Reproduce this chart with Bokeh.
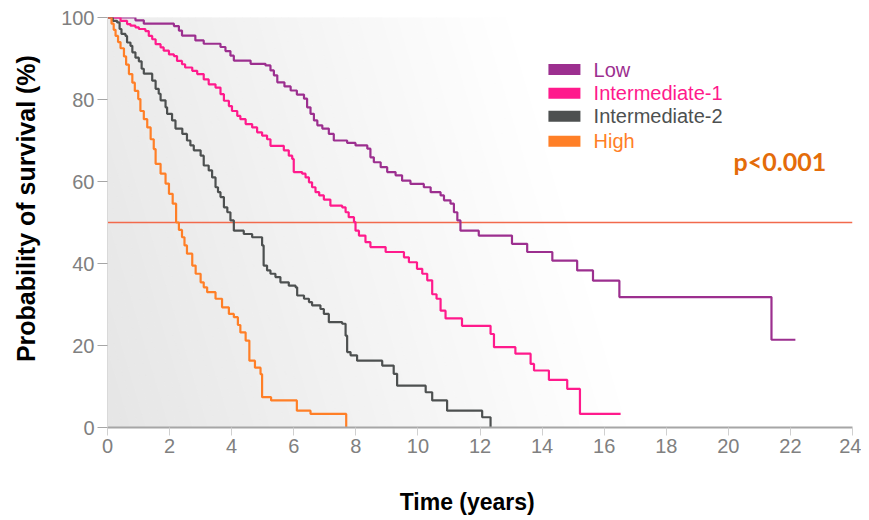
import numpy as np
from bokeh.plotting import figure
from bokeh.models import Range1d, FixedTicker, Span, Label
from bokeh.core.properties import value
from bokeh.embed import file_html
from bokeh.resources import INLINE

# ---------------- data ----------------
groups = ["Low", "Intermediate-1", "Intermediate-2", "High"]
group_colors = ["#9c2f8f", "#ff1a8c", "#4d5050", "#ff7f27"]

low_t = [0, 0.9, 1.17, 2.14, 2.3, 2.4, 2.83, 3.1, 3.64, 3.8, 3.96, 4.07, 4.61, 5.09, 5.25,
         5.36, 5.47, 5.7, 5.9, 6.1, 6.33, 6.43, 6.54, 6.65, 6.76, 6.92, 7.13, 7.29, 7.72,
         7.99, 8.37, 8.47, 8.58, 8.8, 9.01, 9.28, 9.49, 9.76, 10.19, 10.41, 10.73, 10.84,
         11.05, 11.16, 11.27, 11.37, 11.96, 13.03, 13.52, 14.33, 15.13, 15.64, 16.49,
         21.39, 22.16]
low_s = [100, 99.3, 98.5, 97.9, 96.8, 95.6, 94.4, 93.6, 92.8, 91.8, 90.7, 89.5, 88.7, 88.3,
         87.1, 85.9, 84.2, 83.2, 82.2, 81.2, 80.2, 78.1, 76.5, 74.9, 73.7, 72.9, 71.6, 70.0,
         69.4, 68.8, 68.0, 65.9, 64.7, 63.5, 62.3, 61.5, 60.2, 59.4, 58.6, 57.4, 56.6, 55.4,
         54.6, 52.5, 50.5, 48.0, 46.8, 44.8, 42.8, 40.7, 38.3, 35.8, 31.8, 21.4, 21.4]

int1_t = [0, 0.42, 0.63, 0.74, 0.9, 1.01, 1.22, 1.33, 1.44, 1.55, 1.71, 1.81, 1.98, 2.14,
          2.24, 2.4, 2.5, 2.73, 2.89, 3.1, 3.26, 3.48, 3.64, 3.75, 3.91, 4.01, 4.18, 4.28,
          4.45, 4.66, 4.82, 4.98, 5.14, 5.25, 5.68, 5.84, 5.95, 6.0, 6.27, 6.38, 6.49, 6.59,
          6.7, 6.82, 6.97, 7.18, 7.56, 7.67, 7.77, 7.94, 7.99, 8.1, 8.31, 8.47, 8.96, 9.55,
          9.71, 9.97, 10.14, 10.3, 10.46, 10.6, 10.73, 10.89, 11.42, 12.34, 12.45, 13.14,
          13.63, 13.74, 14.22, 14.81, 15.22, 16.53]
int1_s = [100, 99.2, 98.4, 98.0, 97.6, 97.2, 96.7, 95.5, 94.7, 93.5, 92.7, 91.9, 91.0, 90.6,
          89.4, 88.6, 87.8, 87.0, 86.2, 84.9, 83.7, 82.9, 81.3, 79.7, 78.4, 77.2, 76.0, 75.2,
          74.0, 73.2, 72.0, 71.2, 70.3, 68.7, 67.6, 66.3, 65.5, 62.3, 61.9, 61.0, 59.8, 58.6,
          57.4, 56.6, 55.6, 54.1, 53.7, 52.5, 51.3, 50.1, 48.0, 46.8, 45.2, 44.0, 42.8, 41.5,
          40.3, 38.7, 37.5, 35.9, 32.5, 31.4, 28.5, 26.6, 24.8, 22.8, 19.6, 18.0,
          15.5, 13.9, 11.6, 9.4, 3.3, 3.3]

int2_t = [0, 0.17, 0.31, 0.39, 0.45, 0.58, 0.63, 0.74, 0.8, 0.9, 1.01, 1.1, 1.17, 1.44,
          1.55, 1.65, 1.71, 1.87, 1.92, 2.08, 2.19, 2.41, 2.56, 2.67, 2.78, 3.0, 3.1, 3.26,
          3.37, 3.48, 3.56, 3.64, 3.75, 3.86, 3.96, 4.07, 4.39, 4.66, 4.98, 5.03, 5.14, 5.25,
          5.41, 5.57, 5.84, 6.06, 6.11, 6.33, 6.49, 6.59, 6.86, 6.97, 7.13, 7.56, 7.67, 7.72,
          7.83, 8.04, 8.85, 9.22, 9.33, 10.25, 10.46, 10.94, 12.07, 12.34]
int2_s = [100, 99.2, 98.8, 97.2, 96.0, 95.5, 93.9, 93.1, 91.5, 90.2, 89.3, 87.5, 86.3, 84.6,
          82.6, 81.4, 79.8, 78.1, 76.5, 74.9, 72.9, 71.6, 70.0, 68.8, 67.6, 66.3, 63.9, 62.7,
          61.0, 58.6, 57.4, 56.2, 53.7, 52.5, 50.5, 48.0, 47.2, 46.4, 44.4, 39.5, 38.3, 37.5,
          36.7, 35.4, 34.6, 34.2, 32.2, 31.4, 30.6, 29.8, 28.9, 27.7, 25.7, 25.3, 22.4, 18.4,
          17.6, 16.3, 15.1, 13.1, 10.2, 8.6, 6.6, 4.1, 2.5, 0]

high_t = [0, 0.13, 0.2, 0.26, 0.34, 0.42, 0.53, 0.6, 0.69, 0.8, 0.88, 0.99, 1.06, 1.17,
          1.28, 1.39, 1.49, 1.55, 1.71, 1.87, 1.98, 2.1, 2.21, 2.3, 2.4, 2.48, 2.56, 2.73,
          2.84, 3.0, 3.1, 3.21, 3.48, 3.69, 3.91, 4.07, 4.2, 4.28, 4.45, 4.57, 4.75, 4.93,
          4.98, 5.27, 6.1, 6.54, 7.69]
high_s = [100, 98.5, 97.0, 95.5, 94.0, 92.5, 90.5, 88.5, 86.2, 84.1, 82.1, 80.1, 77.2, 75.2,
          73.2, 70.3, 67.9, 64.3, 61.9, 59.5, 57.0, 54.6, 50.0, 48.2, 46.4, 44.4, 42.4, 39.5,
          37.5, 35.4, 34.2, 33.0, 31.4, 29.3, 27.7, 26.9, 25.0, 23.2, 21.2, 16.3, 14.6, 13.0,
          7.4, 6.6, 4.1, 3.3, 0]

x_ticks = list(range(0, 25, 2))
y_ticks = [0, 20, 40, 60, 80, 100]
median_level = 50
p_text = "p<0.001"
x_title = "Time (years)"
y_title = "Probability of survival (%)"

# ---------------- figure ----------------
p = figure(frame_width=745, frame_height=410, x_range=Range1d(0, 24), y_range=Range1d(0, 100),
           output_backend="svg", toolbar_location=None,
           min_border_left=107, min_border_top=17, min_border_right=9, min_border_bottom=88,
           background_fill_color="white", border_fill_color="white")
p.outline_line_color = None
p.grid.visible = False

# background diagonal gradient (decoration)
slant = 3.9
du = 0.25
xs, ys, cols = [], [], []
for a in np.arange(-5, 24, du):
    b = a + du
    frac = min(max((a + du / 2 + 1.0) / 18.0, 0.0), 1.0)
    g = int(round(228 + (255 - 228) * frac))
    xs.append([a, b, b - slant, a - slant])
    ys.append([0, 0, 100, 100])
    cols.append("#%02x%02x%02x" % (g, g, g))
p.patches(xs, ys, fill_color=cols, line_color=cols, line_width=1, level="image")

p.add_layout(Span(location=median_level, dimension="width", line_color="#f26a4c",
                  line_width=1.4, level="underlay"))

series = [(low_t, low_s), (int1_t, int1_s), (int2_t, int2_s), (high_t, high_s)]
for (t, s), c in zip(series, group_colors):
    p.step(t, s, mode="after", line_color=c, line_width=2.2)

# legend (manual, coloured labels)
leg_y = [87.3, 81.5, 75.9, 69.8]
p.rect(x=[14.72] * 4, y=leg_y, width=32, height=11, width_units="screen",
       height_units="screen", fill_color=group_colors, line_color=None)
p.text(x=[15.66] * 4, y=leg_y, text=groups, text_color=group_colors,
       text_font=value("Liberation Sans"), text_font_size="20px", text_baseline="middle")

p.add_layout(Label(x=20.17, y=65.1, text=p_text, text_font="Lato", text_font_style="bold",
                   text_font_size="25px", text_color="#e46c0a", text_baseline="middle"))

# axes
for ax in (p.xaxis[0], p.yaxis[0]):
    ax.major_label_text_font = "Liberation Sans"
    ax.major_label_text_font_size = "20px"
    ax.major_label_text_color = "#808080"
    ax.axis_label_text_font = "Liberation Sans"
    ax.axis_label_text_font_style = "bold"
    ax.axis_label_text_color = "black"
    ax.minor_tick_line_color = None
    ax.major_tick_in = 0

p.xaxis.ticker = FixedTicker(ticks=x_ticks)
p.yaxis.ticker = FixedTicker(ticks=y_ticks)
nb = "\u00a0"
p.xaxis.axis_label = x_title + nb * 4
p.yaxis.axis_label = nb * 4 + y_title
p.xaxis.axis_label_text_font_size = "23px"
p.yaxis.axis_label_text_font_size = "25px"
p.xaxis.axis_line_color = "#a6a6a6"
p.xaxis.axis_line_width = 2
p.xaxis.major_tick_line_color = "#d0d0d0"
p.xaxis.major_tick_out = 8
p.xaxis.major_label_standoff = 3
p.xaxis.axis_label_standoff = 33
p.yaxis.axis_line_color = "#d9d9d9"
p.yaxis.major_tick_line_color = "#a6a6a6"
p.yaxis.major_tick_out = 10
p.yaxis.major_label_standoff = 3
p.yaxis.axis_label_standoff = 18

open("out.html", "w").write(file_html(p, INLINE))
